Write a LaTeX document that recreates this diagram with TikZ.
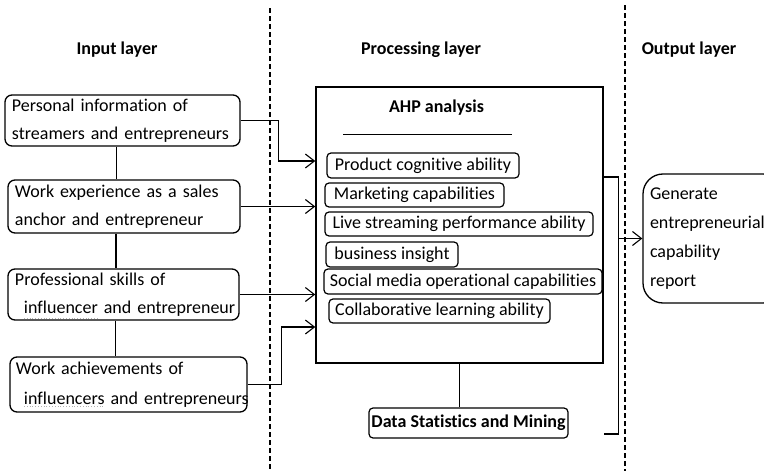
\documentclass[tikz,border=0pt]{standalone}
\usepackage{fontspec}
\setmainfont{Carlito}[Ligatures={NoCommon}]
\usetikzlibrary{arrows.meta}
\begin{document}
\begin{tikzpicture}[x=1pt,y=-1pt,
  hdr/.style={font=\bfseries\fontsize{18}{21}\selectfont},
  inbox/.style={draw, line width=1.3pt, rounded corners=7pt, inner xsep=7pt, inner ysep=0pt,
    align=left, font=\fontsize{18}{28}\selectfont},
  smallbox/.style={draw, line width=1.2pt, rounded corners=4pt, inner sep=0pt,
    font=\fontsize{18}{21}\selectfont},
  link/.style={line width=1.1pt},
  arr/.style={line width=1.1pt, -{Straight Barb[length=9pt,width=14pt,line width=1.1pt]}},
  sep/.style={line width=1.2pt, dash pattern=on 5pt off 3pt}
]
\useasboundingbox (0,0) rectangle (764,471);
\clip (0,0) rectangle (764,471);

% layer separators
\draw[sep] (270,8) -- (270,471);
\draw[sep] (625,5) -- (625,471);

% layer titles
\node[hdr] (h1) at (117,50) {Input layer};
\node[hdr] (h2) at (421,50) {Processing layer};
\node[hdr] (h3) at (689,50) {Output layer};

% input layer
\node[inbox, text width=221pt, minimum height=51pt] (b1) at (122.5,120.5)
  {\mbox{Personal information of}\\\mbox{streamers and entrepreneurs}};
\node[inbox, text width=218pt, minimum height=53pt] (b2) at (124,206.5)
  {\mbox{Work experience as a sales}\\\mbox{anchor and entrepreneur}};
\node[inbox, text width=217pt, minimum height=51pt] (b3) at (123.5,294.5)
  {\mbox{Professional skills of}\\\mbox{\hspace*{9pt}influencer and entrepreneur}};
\node[inbox, inner xsep=6pt, text width=225pt, minimum height=55pt,
  font=\fontsize{18}{30}\selectfont] (b4) at (128.5,384.5)
  {\mbox{Work achievements of}\\\mbox{\hspace*{8pt}influencers and entrepreneurs}};

% spell-check underlines
\draw[gray!60, line width=0.8pt, dotted] (24,318) -- (99,318);
\draw[gray!60, line width=0.8pt, dotted] (24,406) -- (105,406);

\draw[link] ([xshift=-6pt]b1.south) -- ([xshift=-6pt]b1.south |- b2.north);
\draw[link] ([xshift=-8pt]b2.south) -- ([xshift=-8pt]b2.south |- b3.north);
\draw[link] ([xshift=-8pt]b3.south) -- ([xshift=-8pt]b3.south |- b4.north);

% processing layer
\node[draw, line width=1.5pt, minimum width=287pt, minimum height=276pt, inner sep=0pt]
  (proc) at (459.5,225) {};
\node[hdr] (ahp) at (436.5,108) {AHP analysis};
\draw[line width=1pt] (343,134) -- (512,134);

\node[smallbox, minimum width=192pt, minimum height=25pt] (c1) at (423,165.5) {Product cognitive ability};
\node[smallbox, minimum width=179pt, minimum height=24pt] (c2) at (414.5,195) {Marketing capabilities};
\node[smallbox, minimum width=268pt, minimum height=24pt] (c3) at (459,224) {Live streaming performance ability};
\node[smallbox, minimum width=132pt, minimum height=25pt] (c4) at (392,254.5) {business insight};
\node[smallbox, minimum width=278pt, minimum height=25pt] (c5) at (463,281.5) {Social media operational capabilities};
\node[smallbox, minimum width=221pt, minimum height=24pt] (c6) at (439.5,311) {Collaborative learning ability};

\node[smallbox, minimum width=199pt, minimum height=30pt,
  font=\bfseries\fontsize{18}{21}\selectfont] (data) at (468.5,423) {Data Statistics and Mining};
\draw[link] (proc.south) -- (proc.south |- data.north);

% inputs into the processing block
\path (proc.west) ++(0,-64) coordinate (in1);
\path (proc.west) ++(0,102) coordinate (in4);
\draw[arr] (b1.east) -- ++(38,0) |- (in1);
\draw[arr] (b2.east) -- (b2.east -| proc.west);
\draw[arr] (b3.east) -- (b3.east -| proc.west);
\draw[arr] (b4.east) -- ++(34,0) |- (in4);

% output layer
\node[draw, line width=1.3pt, rounded corners=20pt, minimum width=140pt, minimum height=129pt,
  text width=126pt, inner xsep=7pt, inner ysep=0pt, align=left,
  font=\fontsize{18}{29}\selectfont] (out) at (713,238.5)
  {Generate\\entrepreneurial\\capability\\report};

\path (proc.east) ++(0,-48) coordinate (br1);
\path (proc.east) ++(0,209) coordinate (br2);
\draw[link] (br1) -- ++(15,0) coordinate (bx) |- (br2);
\draw[arr] (bx |- out.west) -- (out.west);
\end{tikzpicture}
\end{document}
